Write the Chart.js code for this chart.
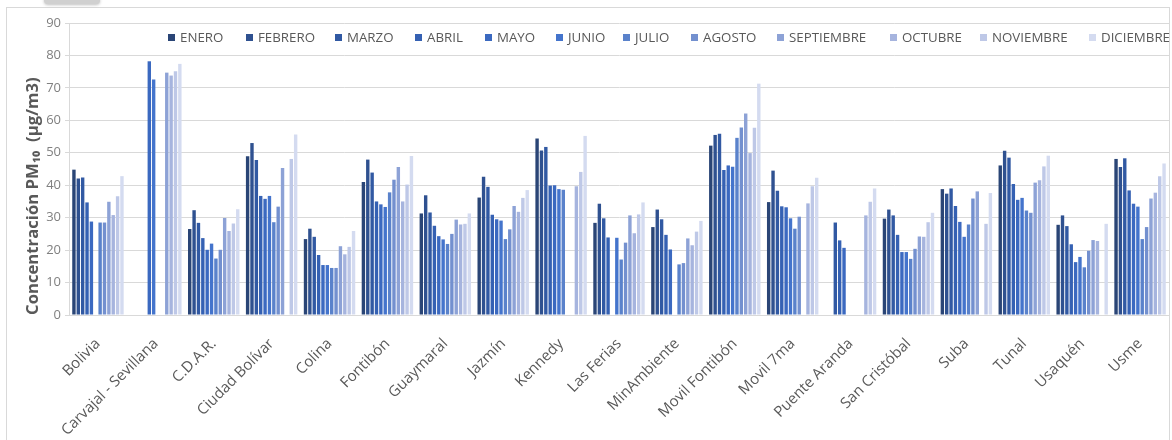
<!DOCTYPE html>
<html>
<head>
<meta charset="utf-8">
<script src="https://cdn.jsdelivr.net/npm/chart.js@4/dist/chart.umd.min.js"></script>
<style>
  body { margin: 0; background: #fff; }
  #wrap { position: relative; width: 1172px; height: 440px; overflow: hidden; }
  #frame { position: absolute; left: 6px; top: 7px; width: 1162px; height: 460px; border: 1px solid #d9d9d9; }
  #tab { position: absolute; left: 44px; top: -4px; width: 56px; height: 8px; border-radius: 4px; background: #d0d0d0; box-shadow: 0 1px 3px rgba(0,0,0,0.25); }
  #chart { position: absolute; left: 0; top: 0; }
  #legend { position: absolute; left: 0; top: 28px; width: 1172px; height: 20px;
            font-family: "Open Sans", sans-serif; font-size: 13.3px; color: #595959; }
  #legend span.item { position: absolute; top: 0; display: flex; align-items: center; white-space: nowrap; }
  #legend span.box { display: inline-block; width: 7px; height: 7px; margin-right: 5px; }
</style>
</head>
<body>
<div id="wrap">
  <div id="frame"></div>
  <div id="tab"></div>
  <canvas id="chart" width="1172" height="440"></canvas>
  <div id="legend"></div>
</div>
<script>
// estaciones
const estaciones = ['Bolivia', 'Carvajal - Sevillana', 'C.D.A.R.', 'Ciudad Bolívar', 'Colina', 'Fontibón',
    'Guaymaral', 'Jazmín', 'Kennedy', 'Las Ferias', 'MinAmbiente', 'Movil Fontibón', 'Movil 7ma',
    'Puente Aranda', 'San Cristóbal', 'Suba', 'Tunal', 'Usaquén', 'Usme']

const meses = ['ENERO', 'FEBRERO', 'MARZO', 'ABRIL', 'MAYO', 'JUNIO', 'JULIO', 'AGOSTO',
    'SEPTIEMBRE', 'OCTUBRE', 'NOVIEMBRE', 'DICIEMBRE']

// PM10 mensual por estacion (null = sin dato)
const enero = [44.8, null, 26.5, 48.9, 23.4, 41.0, 31.3, 36.2, 54.4, 28.4, 27.1, 52.2, 34.8, null, 29.7, 38.8, 46.1, 27.8, 48.1]
const febrero = [42.1, null, 32.3, 53.0, 26.6, 47.9, 36.9, 42.6, 50.7, 34.3, 32.5, 55.5, 44.5, null, 32.5, 37.4, 50.6, 30.7, 45.6]
const marzo = [42.4, null, 28.4, 47.8, 24.1, 43.9, 31.6, 39.5, 51.8, 29.8, 29.5, 55.9, 38.3, 28.5, 30.7, 39.0, 48.5, 27.4, 48.3]
const abril = [34.7, null, 23.7, 36.7, 18.5, 35.0, 27.5, 30.9, 39.9, 23.9, 24.7, 44.7, 33.5, 23.0, 24.7, 33.6, 40.4, 21.8, 38.4]
const mayo = [28.8, 78.2, 20.1, 35.8, 15.4, 34.1, 24.3, 29.5, 40.0, null, 20.2, 46.1, 33.2, 20.7, 19.4, 28.7, 35.5, 16.3, 34.3]
const junio = [null, 72.6, 22.0, 36.7, 15.4, 33.3, 23.3, 29.1, 38.8, 23.8, null, 45.7, 29.8, null, 19.4, 24.1, 36.1, 17.9, 33.4]
const julio = [28.5, null, 17.4, 28.6, 14.5, 37.8, 21.9, 23.4, 38.6, 17.1, 15.6, 54.6, 26.6, null, 17.3, 27.9, 32.2, 14.7, 23.4]
const agosto = [28.5, null, 20.1, 33.4, 14.5, 41.7, 25.0, 26.4, null, 22.3, 16.0, 57.8, 30.3, null, 20.4, 35.9, 31.5, 19.8, 27.1]
const septiembre = [34.9, 74.7, 29.9, 45.3, 21.2, 45.6, 29.4, 33.6, null, 30.7, 23.6, 62.1, null, null, 24.2, 38.1, 40.8, 23.1, 35.9]
const octubre = [30.8, 73.8, 25.9, null, 18.7, 35.0, 27.9, 31.8, 39.7, 25.2, 21.5, 49.9, 34.4, 30.7, 24.1, null, 41.5, 22.8, 37.7]
const noviembre = [36.6, 75.1, 28.2, 48.1, 21.0, 40.2, 28.1, 36.1, 44.1, 31.0, 25.7, 57.7, 39.7, 34.9, 28.6, 28.1, 45.8, null, 42.8]
const diciembre = [42.8, 77.4, 32.6, 55.6, 25.9, 49.0, 31.3, 38.5, 55.2, 34.7, 29.0, 71.3, 42.3, 39.0, 31.5, 37.6, 49.1, 28.1, 46.7]

const y_ticks = [0, 10, 20, 30, 40, 50, 60, 70, 80, 90]

const series = [enero, febrero, marzo, abril, mayo, junio, julio, agosto, septiembre, octubre, noviembre, diciembre]
const colores = ['#2a4576', '#2f5190', '#3159a3', '#3561b3', '#3b69c0', '#4474cc',
    '#5a82cb', '#7390cf', '#8da2d6', '#a6b4de', '#bec8e7', '#d4dbf0']
// x de cada entrada de la leyenda (px)
const legend_x = [168, 246, 335, 415, 485, 556, 623, 691, 777, 890, 980, 1089]

function build_legend() {
    const box = document.getElementById('legend')
    meses.forEach((m, i) => {
        const item = document.createElement('span')
        item.className = 'item'
        item.style.left = legend_x[i] + 'px'
        item.innerHTML = `<span class="box" style="background:${colores[i]}"></span>${m}`
        box.appendChild(item)
    })
}

function generate_chart() {
    const ctx = document.getElementById('chart').getContext('2d')
    const myChart = new Chart(ctx, {
        type: 'bar',
        data: {
            labels: estaciones,
            datasets: series.map((d, i) => ({
                label: meses[i],
                data: d,
                backgroundColor: colores[i],
                borderWidth: 0,
                categoryPercentage: 0.905,
                barPercentage: 0.78
            }))
        },
        options: {
            responsive: false,
            animation: false,
            layout: { padding: { top: 23, right: 3, left: 0, bottom: 0 } },
            plugins: {
                legend: { display: false },
                tooltip: { enabled: false }
            },
            scales: {
                x: {
                    afterFit: s => { s.height = 125 },
                    grid: { display: false },
                    border: { color: '#d9d9d9' },
                    ticks: {
                        color: '#595959',
                        font: { family: 'Open Sans', size: 15 },
                        minRotation: 45,
                        maxRotation: 45,
                        autoSkip: false,
                        padding: 12
                    }
                },
                y: {
                    min: 0,
                    max: 90,
                    afterFit: s => { s.width = 69 },
                    afterBuildTicks: s => { s.ticks = y_ticks.map(v => ({ value: v })) },
                    grid: { color: '#d9d9d9', tickLength: 4 },
                    border: { color: '#d9d9d9' },
                    ticks: {
                        color: '#808080',
                        font: { family: 'Open Sans', size: 13 },
                        padding: 4
                    },
                    title: {
                        display: true,
                        text: 'Concentración PM₁₀  (µg/m3)',
                        align: 'start',
                        color: '#595959',
                        font: { family: 'Open Sans', size: 16.7, weight: 'bold' },
                        padding: { top: 23, bottom: 0 }
                    }
                }
            }
        }
    })
}

build_legend()
generate_chart()
</script>
</body>
</html>
